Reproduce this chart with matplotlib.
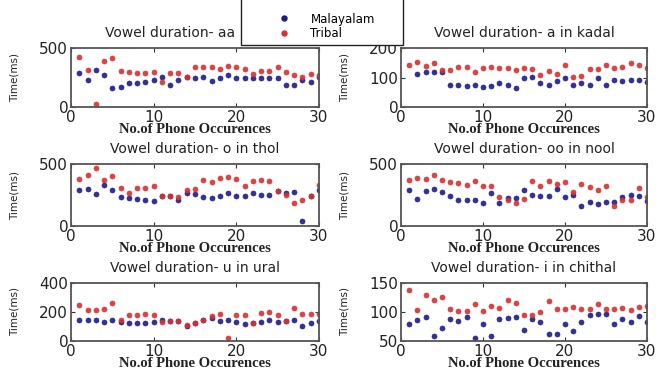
import numpy as np
import matplotlib
matplotlib.use("Agg")
import matplotlib.pyplot as plt
from matplotlib.patches import Rectangle
from matplotlib.lines import Line2D

occ = list(range(1, 31))
xticks = [0, 10, 20, 30]

titles = ["Vowel duration- aa", "Vowel duration- a in kadal",
          "Vowel duration- o in thol", "Vowel duration- oo in nool",
          "Vowel duration- u in ural", "Vowel duration- i in chithal"]
ylims = [(0, 500), (0, 200), (0, 500), (0, 500), (0, 400), (50, 150)]
yticks = [[0, 500], [0, 100, 200], [0, 500], [0, 500], [0, 200, 400], [50, 100, 150]]

mal_aa = [287, 225, 315, 270, 163, 169, 205, 205, 211, 225, 258, 185, 230, 253, 244,
          253, 219, 244, 267, 244, 244, 244, 244, 244, 244, 185, 185, 225, 211, 253]
tri_aa = [421, 315, 28, 393, 416, 303, 298, 292, 287, 295, 215, 290, 290, 253, 343,
          337, 337, 323, 351, 337, 323, 281, 303, 303, 337, 295, 267, 258, 281, 275]

mal_a = [np.nan, 112, 118, 118, 118, 73, 73, 71, 76, 67, 71, 82, 76, 65, 97,
         101, 81, 76, 88, 98, 76, 82, 73, 98, 73, 90, 88, 93, 90, 85]
tri_a = [144, 152, 140, 148, 124, 124, 137, 135, 118, 133, 137, 133, 131, 126, 133,
         128, 107, 121, 112, 144, 103, 104, 128, 129, 143, 133, 135, 148, 143, 133]

mal_o = [287, 298, 255, 332, 287, 234, 226, 221, 207, 199, 240, 240, 207, 266, 261,
         231, 226, 239, 266, 245, 245, 266, 253, 253, 279, 266, 271, 40, 240, 290]
tri_o = [378, 412, 471, 367, 404, 306, 266, 306, 306, 324, 245, 239, 234, 293, 298,
         367, 354, 386, 394, 378, 324, 359, 367, 359, 279, 250, 186, 213, 245, 332]

mal_oo = [287, 221, 279, 298, 271, 245, 213, 213, 207, 186, 266, 186, 226, 226, 287,
          253, 245, 245, 298, 234, 253, 165, 191, 181, 191, 191, 234, 250, 245, 199]
tri_oo = [372, 386, 383, 412, 367, 354, 346, 332, 359, 319, 324, 234, 213, 186, 218,
          359, 324, 359, 340, 354, 271, 340, 314, 287, 324, 165, 207, 207, 306, 234]

mal_u = [143, 147, 143, 131, 143, 131, 124, 124, 124, 131, 143, 136, 136, 101, 124,
         147, 160, 136, 147, 131, 120, 124, 131, 143, 131, 138, 143, 101, 124, 136]
tri_u = [246, 216, 216, 223, 262, 147, 182, 182, 189, 182, 131, 136, 136, 108, 124,
         147, 170, 189, 23, 182, 177, 126, 193, 200, 177, 138, 230, 189, 189, 189]

mal_i = [80, 86, 91, 58, 73, 88.5, 84.5, 91, 56, 80, 58, 88.5, 90, 91, 69.5,
         88.5, 83, 61.5, 62.5, 80, 68, 83, 94, 97, 97, 80, 88.5, 83, 92.5, 83]
tri_i = [138.5, 103, 129, 121, 126, 106, 102, 102, 114, 102, 110, 107, 120, 116, 94,
         94, 100, 119, 106, 106, 109, 106, 106, 113, 106, 106, 107, 104, 109, 111]

malayalam = [mal_aa, mal_a, mal_o, mal_oo, mal_u, mal_i]
tribal = [tri_aa, tri_a, tri_o, tri_oo, tri_u, tri_i]
series_labels = ["Malayalam", "Tribal"]

BLUE = "#1c1c8a"
RED = "#d83030"

fig = plt.figure(figsize=(6.56, 3.75), dpi=100)
W, H = 656.0, 375.0
cols = [(71, 319), (401, 647)]
rows = [(48, 107), (164, 226), (283, 341)]

for i in range(6):
    r, c = divmod(i, 2)
    x0, x1 = cols[c]
    t, b = rows[r]
    ax = fig.add_axes([x0 / W, 1 - b / H, (x1 - x0) / W, (b - t) / H])
    ax.plot(occ, malayalam[i], 'o', color=BLUE, ms=3.6, mec=BLUE, mew=0.5, alpha=0.9)
    ax.plot(occ, tribal[i], 'o', color=RED, ms=3.6, mec=RED, mew=0.5, alpha=0.9)
    ax.set_xlim(0, 30)
    ax.set_ylim(*ylims[i])
    ax.set_xticks(xticks)
    ax.set_yticks(yticks[i])
    ax.tick_params(direction='in', top=True, right=True, length=3, width=0.8,
                   labelsize=11, pad=2, colors='#333333', labelcolor='#222222')
    for s in ax.spines.values():
        s.set_color('#555555')
        s.set_linewidth(1.3)
    if i == 0:
        ax.set_title(titles[i], fontsize=10, pad=8, x=0.40, color='#222222')
    else:
        ax.set_title(titles[i], fontsize=10, pad=8, color='#222222')
    ax.set_xlabel("No.of Phone Occurences", family='Liberation Serif',
                  fontweight='bold', fontsize=10.5, labelpad=-1, color='#222222')
    ax.set_ylabel("Time(ms)", fontsize=7.5, labelpad=14, color='#222222')

# legend box (top edge lies above the figure)
rect = Rectangle((241 / W, 1 - 45 / H), (403 - 241) / W, 60 / H,
                 transform=fig.transFigure, facecolor='white', edgecolor='#222222',
                 linewidth=1.0, zorder=5)
fig.add_artist(rect)
handles = [Line2D([], [], ls='', marker='o', color=BLUE, ms=3.6),
           Line2D([], [], ls='', marker='o', color=RED, ms=3.6)]
leg = fig.legend(handles, series_labels, loc='upper left',
                 bbox_to_anchor=(262 / W, 1 - 2 / H), frameon=False,
                 fontsize=8.5, handletextpad=1.2, labelspacing=0.15,
                 handlelength=2.0)
leg.set_zorder(6)

fig.savefig("out.png", dpi=100)
